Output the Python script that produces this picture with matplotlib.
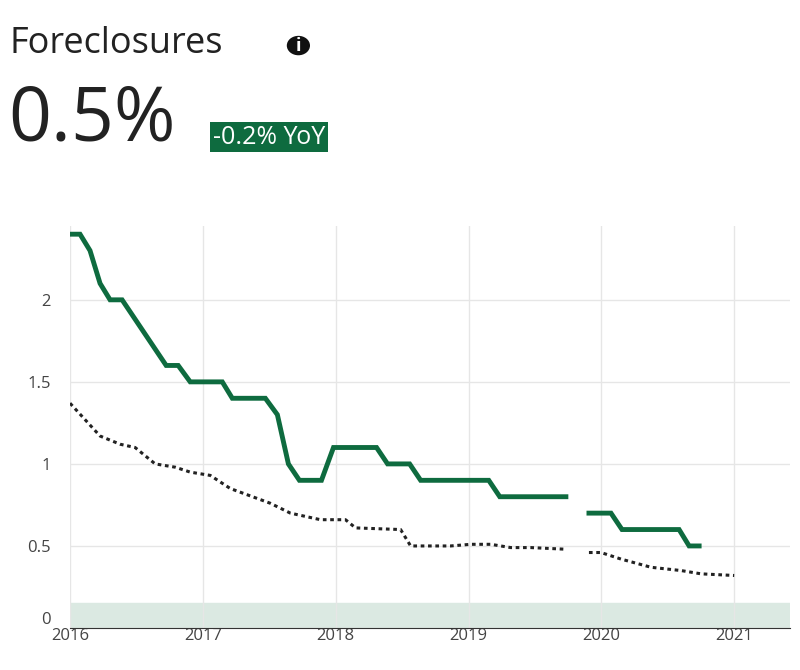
import matplotlib
matplotlib.use("Agg")
import matplotlib.pyplot as plt
import numpy as np
from matplotlib.patches import Circle

px = [70,80,90,100,110,122,166,178,190,222,232,265,277,288,299,321,333,376,387,409,420,488,499,565,None,588,610,621,678,688,698]
green_vals = [2.4,2.4,2.3,2.1,2.0,2.0,1.6,1.6,1.5,1.5,1.4,1.4,1.3,1.0,0.9,0.9,1.1,1.1,1.0,1.0,0.9,0.9,0.8,0.8,None,0.7,0.7,0.6,0.6,0.5,0.5]
dx = [70,100,120,135,155,175,190,210,230,270,290,320,345,355,400,410,450,470,490,510,530,565,None,588,600,620,650,680,700,733]
dot_vals = [1.37,1.17,1.12,1.10,1.0,0.98,0.95,0.93,0.85,0.76,0.70,0.66,0.66,0.61,0.60,0.50,0.50,0.51,0.51,0.49,0.49,0.48,None,0.46,0.46,0.42,0.37,0.35,0.33,0.32]
yticks = [0, 0.5, 1, 1.5, 2]
years = [2016, 2017, 2018, 2019, 2020, 2021]

def tx(v):
    return np.nan if v is None else (v - 70) / 132.6 + 2016
def ty(v):
    return np.nan if v is None else v

plt.rcParams["font.family"] = "Open Sans"
GREEN = "#0e6b3f"
fig = plt.figure(figsize=(8, 6.7), dpi=100)
ax = fig.add_axes([0.0875, 0.0627, 0.9, 0.60])
ax.plot([tx(v) for v in px], [ty(v) for v in green_vals], color=GREEN, lw=3.5, solid_joinstyle="miter")
ax.plot([tx(v) for v in dx], [ty(v) for v in dot_vals], color="#222222", lw=2.2, ls=(0, (1.2, 1.2)))
ax.axhspan(0, 0.15, color="#dbe9e2", zorder=0)
ax.set_xlim(2016, 2021.42)
ax.set_ylim(0, 2.45)
ax.set_xticks(years)
ax.set_yticks(yticks)
ax.set_yticklabels(["0", "0.5", "1", "1.5", "2"])
ax.grid(color="#e6e6e6", lw=1)
ax.set_axisbelow(True)
for s in ["top", "right", "left"]:
    ax.spines[s].set_visible(False)
ax.spines["bottom"].set_color("#333333")
ax.tick_params(length=0, labelsize=12, colors="#444444", pad=14)
ax.tick_params(axis="x", pad=0)
ax.get_yticklabels()[0].set_verticalalignment("bottom")

fig.text(0.012, 0.935, "Foreclosures", fontsize=26, color="#222222", va="center")
fig.patches.append(Circle((0.373, 0.932), 0.0145, transform=fig.transFigure, fc="#111111", ec="none",
                          figure=fig))
fig.text(0.373, 0.931, "i", fontsize=13, color="white", ha="center", va="center", fontweight="bold")
fig.text(0.01, 0.82, "0.5%", fontsize=54, color="#222222", va="center")
fig.text(0.266, 0.795, "-0.2% YoY", fontsize=18, color="white", va="center",
         bbox=dict(boxstyle="square,pad=0.1", fc=GREEN, ec="none"))
fig.savefig("out.png", dpi=100)
